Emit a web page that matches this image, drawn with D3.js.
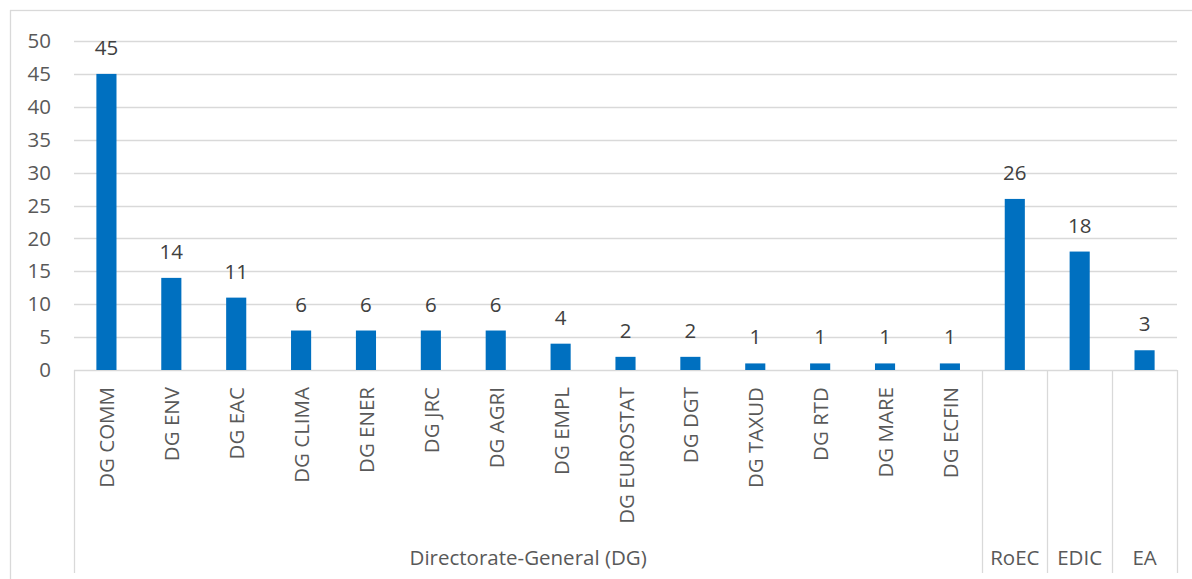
<!DOCTYPE html>
<html>
<head>
<meta charset="utf-8">
<script src="https://cdn.jsdelivr.net/npm/d3@7"></script>
<style>
  body { margin: 0; background: #fff; }
  svg { display: block; }
  text { font-family: "Open Sans", sans-serif; }
  .grid line { stroke: #d9d9d9; stroke-width: 1.3; }
  .tick-label { fill: #595959; font-size: 20.5px; }
  .value-label { fill: #404040; font-size: 20.5px; }
  .sep { stroke: #d9d9d9; stroke-width: 1.3; }
</style>
</head>
<body>
<svg id="chart" width="1192" height="579"></svg>
<script>
// data
var categories = ['DG COMM', 'DG ENV', 'DG EAC', 'DG CLIMA', 'DG ENER', 'DG JRC', 'DG AGRI',
    'DG EMPL', 'DG EUROSTAT', 'DG DGT', 'DG TAXUD', 'DG RTD', 'DG MARE', 'DG ECFIN',
    'RoEC', 'EDIC', 'EA'];
var values = [45, 14, 11, 6, 6, 6, 6, 4, 2, 2, 1, 1, 1, 1, 26, 18, 3];
var groups = ['Directorate-General (DG)', 'RoEC', 'EDIC', 'EA'];
var groupSizes = [14, 1, 1, 1];
var yTicks = [0, 5, 10, 15, 20, 25, 30, 35, 40, 45, 50];

var svg = d3.select('#chart');

var plot = { left: 74, right: 1177, top: 41, bottom: 370, axisBottom: 573 };

// outer border
svg.append('rect')
    .attr('x', 10.5)
    .attr('y', 10.5)
    .attr('width', 1200)
    .attr('height', 600)
    .attr('fill', 'none')
    .attr('stroke', '#d9d9d9')
    .attr('stroke-width', 1.3);

var x = d3.scaleBand()
    .domain(categories)
    .range([plot.left, plot.right])
    .paddingInner(0.69)
    .paddingOuter(0.345);

var y = d3.scaleLinear()
    .domain([0, 50])
    .range([plot.bottom, plot.top]);

// gridlines
svg.append('g').classed('grid', true)
    .selectAll('line')
    .data(yTicks)
  .enter().append('line')
    .attr('x1', plot.left)
    .attr('x2', plot.right)
    .attr('y1', function(d) { return Math.round(y(d)) + 0.5; })
    .attr('y2', function(d) { return Math.round(y(d)) + 0.5; });

// y tick labels
svg.append('g')
    .selectAll('text')
    .data(yTicks)
  .enter().append('text')
    .classed('tick-label', true)
    .attr('x', 51)
    .attr('y', function(d) { return y(d); })
    .attr('dy', '0.35em')
    .attr('text-anchor', 'end')
    .text(function(d) { return d; });

// bars
svg.append('g')
    .selectAll('rect')
    .data(values)
  .enter().append('rect')
    .attr('x', function(d, i) { return x(categories[i]); })
    .attr('y', function(d) { return y(d); })
    .attr('width', x.bandwidth())
    .attr('height', function(d) { return plot.bottom - y(d); })
    .attr('fill', '#0070c0');

// value labels
svg.append('g')
    .selectAll('text')
    .data(values)
  .enter().append('text')
    .classed('value-label', true)
    .attr('x', function(d, i) { return x(categories[i]) + x.bandwidth() / 2; })
    .attr('y', function(d) { return y(d) - 19; })
    .attr('text-anchor', 'middle')
    .text(function(d) { return d; });

// group boundaries along the category axis
var groupStart = 0;
var boundaries = [plot.left];
groupSizes.forEach(function(n) {
    groupStart += n;
    boundaries.push(plot.left + groupStart * (plot.right - plot.left) / categories.length);
});

// category labels (rotated), only for the DG group
svg.append('g')
    .selectAll('text')
    .data(categories.slice(0, groupSizes[0]))
  .enter().append('text')
    .classed('tick-label', true)
    .attr('transform', function(d) {
        var cx = x(d) + x.bandwidth() / 2;
        return 'translate(' + (cx + 8) + ',387) rotate(-90)';
    })
    .attr('text-anchor', 'end')
    .text(function(d) { return d; });

// group separators
svg.append('g')
    .selectAll('line')
    .data(boundaries)
  .enter().append('line')
    .classed('sep', true)
    .attr('x1', function(d) { return Math.round(d) + 0.5; })
    .attr('x2', function(d) { return Math.round(d) + 0.5; })
    .attr('y1', plot.bottom)
    .attr('y2', plot.axisBottom);

// group labels
svg.append('g')
    .selectAll('text')
    .data(groups)
  .enter().append('text')
    .classed('tick-label', true)
    .attr('x', function(d, i) { return (boundaries[i] + boundaries[i + 1]) / 2; })
    .attr('y', 565)
    .attr('text-anchor', 'middle')
    .text(function(d) { return d; });
</script>
</body>
</html>
